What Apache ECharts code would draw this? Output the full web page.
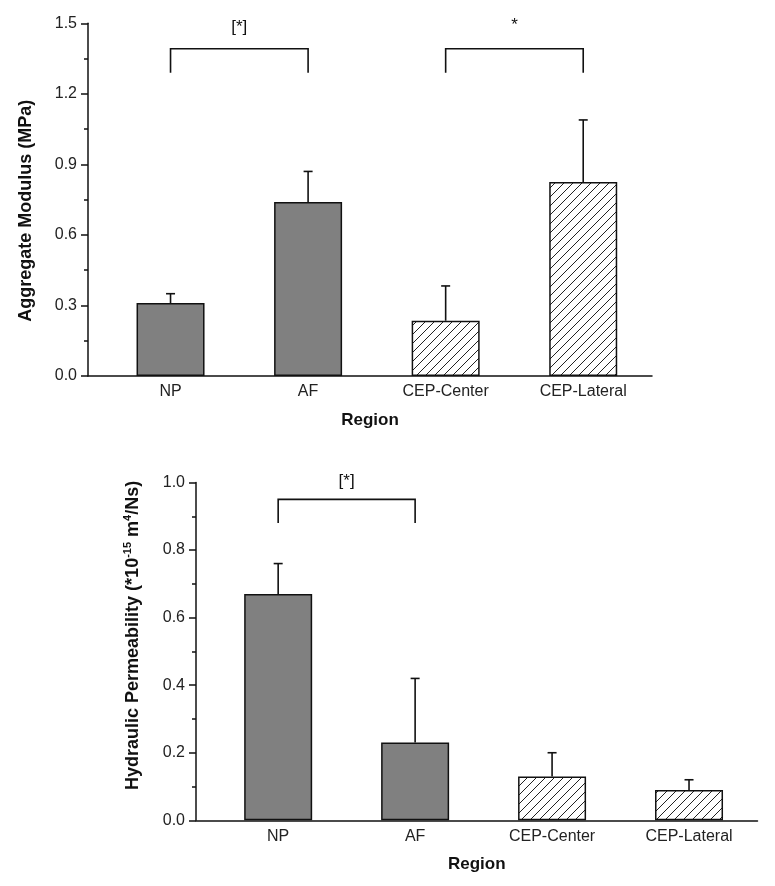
<!DOCTYPE html>
<html>
<head>
<meta charset="utf-8">
<script src="https://cdn.jsdelivr.net/npm/echarts@6/dist/echarts.min.js"></script>
<style>
html,body{margin:0;padding:0;background:#fff;}
#chart{width:775px;height:886px;}
</style>
</head>
<body>
<div id="chart"></div>
<script>
// ---- data ----
var categories = ['NP', 'AF', 'CEP-Center', 'CEP-Lateral'];
var modulusMean = [0.31, 0.74, 0.235, 0.825];
var modulusUpper = [0.35, 0.87, 0.383, 1.089];
var permMean = [0.67, 0.23, 0.13, 0.09];
var permUpper = [0.76, 0.42, 0.20, 0.12];
var modulusTicks = [0, 0.3, 0.6, 0.9, 1.2, 1.5];
var permTicks = [0, 0.2, 0.4, 0.6, 0.8, 1.0];
// brackets: [startCategory, endCategory, lineValue, legValue, labelValue, label]
var modulusBrackets = [[1, 2, 1.392, 1.29, 1.483, '[*]'], [3, 4, 1.392, 1.29, 1.49, '*']];
var permBrackets = [[1, 2, 0.95, 0.88, 1.003, '[*]']];

// ---- styles ----
var FONT = 'Liberation Sans, Arial, sans-serif';
var hatch = document.createElement('canvas');
hatch.width = 9; hatch.height = 9;
(function () {
  var c = hatch.getContext('2d');
  c.fillStyle = '#fff'; c.fillRect(0, 0, 9, 9);
  c.strokeStyle = '#222'; c.lineWidth = 1;
  c.beginPath();
  c.moveTo(-1, 10); c.lineTo(10, -1);
  c.moveTo(-1, 1); c.lineTo(1, -1);
  c.moveTo(8, 10); c.lineTo(10, 8);
  c.stroke();
})();

function barData(vals) {
  return vals.map(function (v, i) {
    var isCEP = categories[i].indexOf('CEP') === 0;
    return {
      value: [i + 1, v],
      itemStyle: {
        color: isCEP ? { image: hatch, repeat: 'repeat' } : '#808080',
        borderColor: '#111', borderWidth: 1.5
      }
    };
  });
}
function errData(mean, upper) {
  return mean.map(function (m, i) { return [i + 1, m, upper[i]]; });
}
function renderErr(params, api) {
  var x = api.value(0);
  var p0 = api.coord([x, api.value(1)]);
  var p1 = api.coord([x, api.value(2)]);
  var st = { stroke: '#111', lineWidth: 1.6 };
  return {
    type: 'group',
    children: [
      { type: 'line', shape: { x1: p0[0], y1: p0[1], x2: p1[0], y2: p1[1] }, style: st },
      { type: 'line', shape: { x1: p1[0] - 4.5, y1: p1[1], x2: p1[0] + 4.5, y2: p1[1] }, style: st }
    ]
  };
}
function renderBracket(params, api) {
  var a = api.value(0), b = api.value(1);
  var top = api.value(2), leg = api.value(3), ly = api.value(4);
  var pa = api.coord([a, top]), pb = api.coord([b, top]);
  var la = api.coord([a, leg]), lb = api.coord([b, leg]);
  var pl = api.coord([(a + b) / 2, ly]);
  return {
    type: 'group',
    children: [
      { type: 'polyline', shape: { points: [la, pa, pb, lb] }, style: { stroke: '#111', lineWidth: 1.6, fill: null } },
      { type: 'text', x: pl[0], y: pl[1], style: { text: api.value(5), font: '17px ' + FONT, fill: '#111', align: 'center', verticalAlign: 'middle' } }
    ]
  };
}

function xAxisCfg(gridIndex) {
  return {
    gridIndex: gridIndex, type: 'value', min: 0.4, max: 4.5,
    name: 'Region', nameLocation: 'middle', nameGap: 36,
    nameTextStyle: { fontFamily: FONT, fontSize: 17, fontWeight: 'bold', color: '#111' },
    axisLine: { show: true, onZero: false, lineStyle: { color: '#111', width: 1.5 } },
    axisTick: { show: false },
    splitLine: { show: false },
    axisLabel: {
      customValues: [1, 2, 3, 4],
      formatter: function (v) { return categories[Math.round(v) - 1] || ''; },
      fontFamily: FONT, fontSize: 16, color: '#222', margin: 8
    }
  };
}
function yAxisCfg(gridIndex, ticks, name, gap, pad, rich) {
  var o = {
    gridIndex: gridIndex, type: 'value',
    min: ticks[0], max: ticks[ticks.length - 1], interval: ticks[1] - ticks[0],
    name: name, nameLocation: 'middle', nameGap: gap,
    nameTextStyle: { fontFamily: FONT, fontSize: 18, fontWeight: 'bold', color: '#111', padding: pad },
    axisLine: { show: true, lineStyle: { color: '#111', width: 1.5 } },
    axisTick: { show: true, inside: false, length: 7, lineStyle: { color: '#111', width: 1.5 } },
    minorTick: { show: true, splitNumber: 2, length: 4, lineStyle: { color: '#111', width: 1.5 } },
    splitLine: { show: false },
    axisLabel: {
      formatter: function (v) { return v.toFixed(1); },
      fontFamily: FONT, fontSize: 16, color: '#222', margin: 11
    }
  };
  if (rich) o.nameTextStyle.rich = rich;
  return o;
}

var chart = echarts.init(document.getElementById('chart'), null, { renderer: 'canvas' });
chart.setOption({
  backgroundColor: '#fff',
  animation: false,
  grid: [
    { left: 88, right: 123, top: 23.3, bottom: 510 },
    { left: 196, right: 17.5, top: 482.5, bottom: 65.7 }
  ],
  xAxis: [xAxisCfg(0), xAxisCfg(1)],
  yAxis: [
    yAxisCfg(0, modulusTicks, 'Aggregate Modulus (MPa)', 53, [0, 22, 0, 0]),
    yAxisCfg(1, permTicks, '{b|Hydraulic Permeability (*10}{s|-15}{b| m}{s|4}{b|/Ns)}', 52, [0, 0, 0, 32], {
      b: { fontFamily: FONT, fontSize: 18, fontWeight: 'bold', color: '#111', lineHeight: 22 },
      s: { fontFamily: FONT, fontSize: 11, fontWeight: 'bold', color: '#111', lineHeight: 22, verticalAlign: 'top' }
    })
  ],
  series: [
    { type: 'bar', xAxisIndex: 0, yAxisIndex: 0, barWidth: 68, data: barData(modulusMean) },
    { type: 'custom', xAxisIndex: 0, yAxisIndex: 0, renderItem: renderErr, data: errData(modulusMean, modulusUpper), z: 3 },
    { type: 'custom', xAxisIndex: 0, yAxisIndex: 0, renderItem: renderBracket, data: modulusBrackets, clip: false, z: 3 },
    { type: 'bar', xAxisIndex: 1, yAxisIndex: 1, barWidth: 68, data: barData(permMean) },
    { type: 'custom', xAxisIndex: 1, yAxisIndex: 1, renderItem: renderErr, data: errData(permMean, permUpper), z: 3 },
    { type: 'custom', xAxisIndex: 1, yAxisIndex: 1, renderItem: renderBracket, data: permBrackets, clip: false, z: 3 }
  ]
});
</script>
</body>
</html>
